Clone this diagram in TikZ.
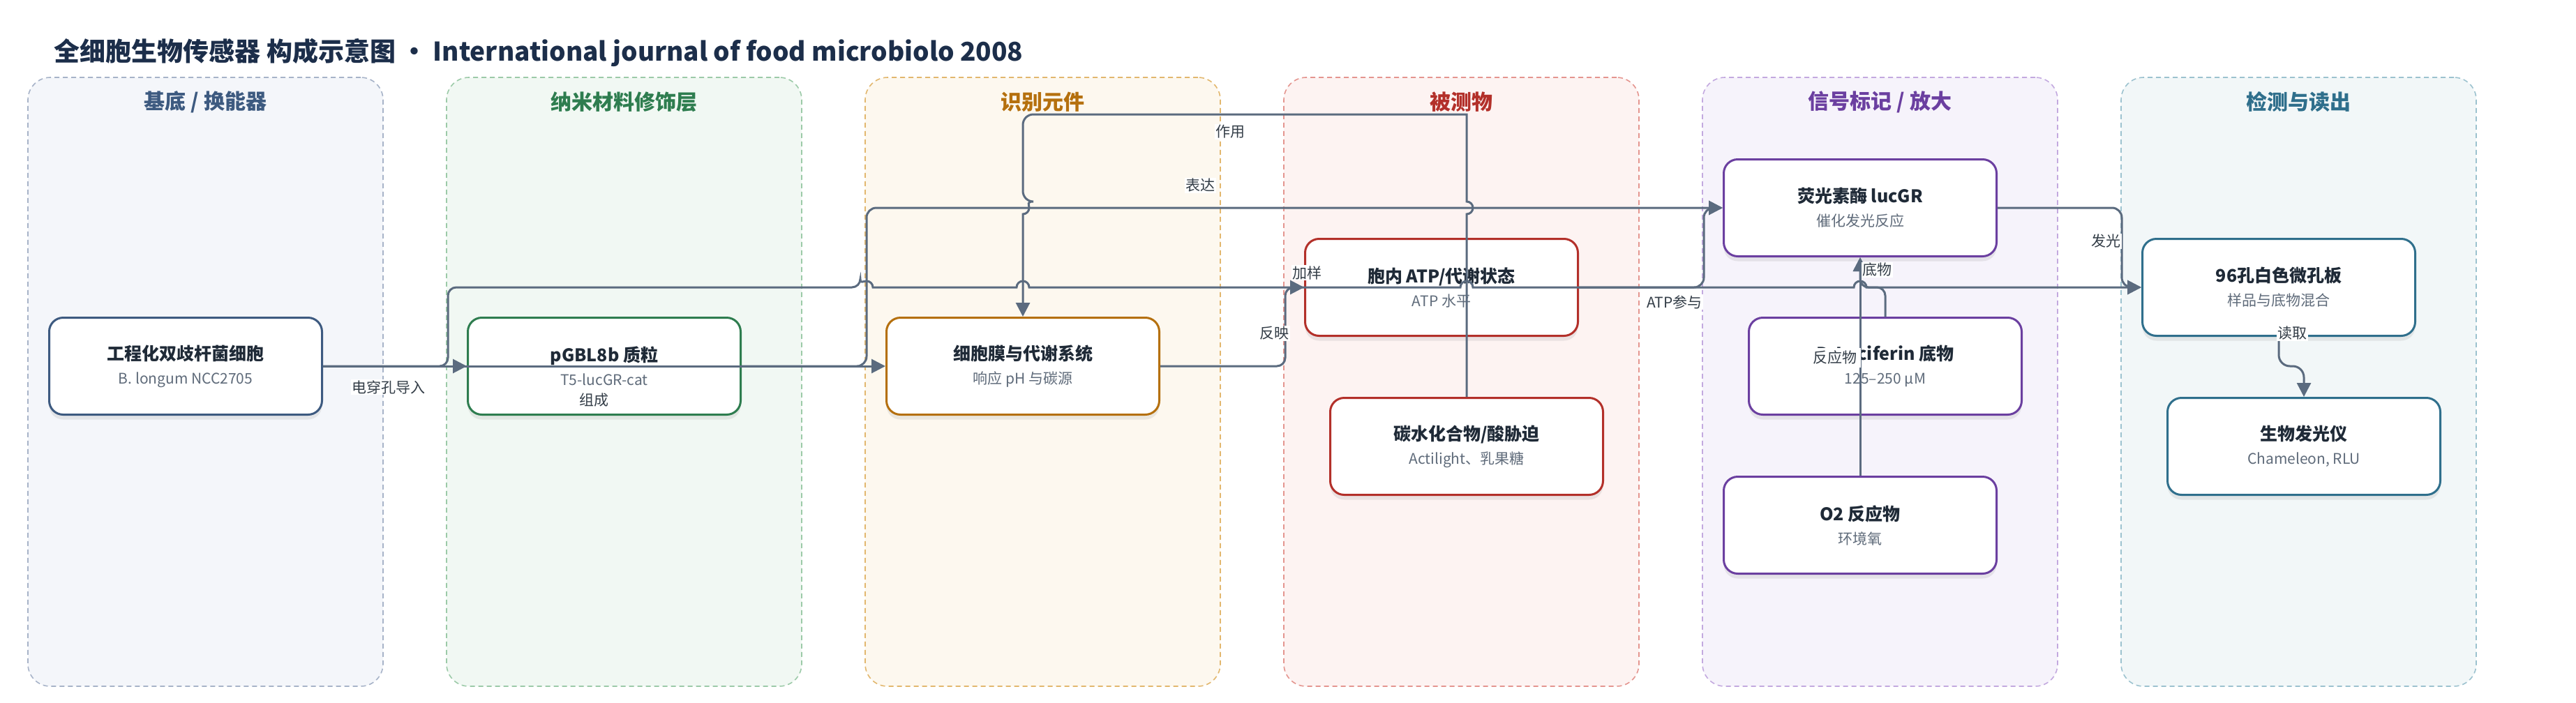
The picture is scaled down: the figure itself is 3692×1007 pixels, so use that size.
\documentclass[tikz,border=0pt]{standalone}
\usepackage{fontspec}
\setmainfont{Noto Sans CJK SC}
\usetikzlibrary{arrows.meta,shadows}
\definecolor{ttlink}{HTML}{1C2E4A}
\definecolor{ink}{HTML}{1F2A37}
\definecolor{subink}{HTML}{5F6B7A}
\definecolor{labink}{HTML}{333D47}
\definecolor{edge}{HTML}{5B6B7F}
\definecolor{cbase}{HTML}{3D5A80}
\definecolor{cnano}{HTML}{2E7D4F}
\definecolor{crec}{HTML}{B5700E}
\definecolor{cana}{HTML}{B3302A}
\definecolor{csig}{HTML}{6B3FA0}
\definecolor{cdet}{HTML}{2F6F8C}
\definecolor{fbase}{HTML}{F4F6FA}
\definecolor{fnano}{HTML}{F1F8F3}
\definecolor{frec}{HTML}{FDF8EF}
\definecolor{fana}{HTML}{FDF3F2}
\definecolor{fsig}{HTML}{F6F3FB}
\definecolor{fdet}{HTML}{F2F7F8}
\definecolor{dbase}{HTML}{A7B3C8}
\definecolor{dnano}{HTML}{9CCAA8}
\definecolor{drec}{HTML}{E2B76E}
\definecolor{dana}{HTML}{E4958F}
\definecolor{dsig}{HTML}{C3A9DF}
\definecolor{ddet}{HTML}{9CC2CF}

\begin{document}
\begin{tikzpicture}[x=1pt,y=-1pt,
  grp/.style={dash pattern=on 7pt off 5pt, line width=1.6pt, rounded corners=32pt, minimum width=509pt, minimum height=873pt, inner sep=0pt},
  grptitle/.style={font=\fontsize{30}{36}\selectfont\bfseries},
  bx/.style={draw, fill=white, line width=3pt, rounded corners=20pt, minimum width=391pt, minimum height=139pt, align=center, inner sep=0pt, text=ink, font=\fontsize{21}{34}\selectfont, drop shadow={opacity=0.15, shadow xshift=0pt, shadow yshift=-7pt}},
  arr/.style={draw=edge, line width=3pt, -{Triangle[length=20pt,width=20pt]}},
  lab/.style={fill=white, inner sep=1.5pt, text=labink, font=\fontsize{21}{24}\selectfont}
]
\useasboundingbox (0,0) rectangle (3692,1007);
\node[anchor=west, font=\fontsize{37}{44}\selectfont\bfseries, text=ttlink] (ttl) at (74,75) {全细胞生物传感器 构成示意图 · International journal of food microbiolo 2008};
\node[grp, draw=dbase, fill=fbase] (grp0) at (294.5,547.5) {};
\node[grp, draw=dnano, fill=fnano] (grp1) at (894.5,547.5) {};
\node[grp, draw=drec, fill=frec] (grp2) at (1494.5,547.5) {};
\node[grp, draw=dana, fill=fana] (grp3) at (2094.5,547.5) {};
\node[grp, draw=dsig, fill=fsig] (grp4) at (2694.5,547.5) {};
\node[grp, draw=ddet, fill=fdet] (grp5) at (3294.5,547.5) {};
\node[grptitle, text=cbase] (gt0) at (294.5,146) {基底 / 换能器};
\node[grptitle, text=cnano] (gt1) at (894.5,146) {纳米材料修饰层};
\node[grptitle, text=crec] (gt2) at (1494.5,146) {识别元件};
\node[grptitle, text=cana] (gt3) at (2094.5,146) {被测物};
\node[grptitle, text=csig] (gt4) at (2694.5,146) {信号标记 / 放大};
\node[grptitle, text=cdet] (gt5) at (3294.5,146) {检测与读出};
\node[bx, draw=cbase] (bx0) at (266,525) {{\fontsize{25}{34}\selectfont\bfseries 工程化双歧杆菌细胞}\\{\color{subink}B. longum NCC2705}};
\node[bx, draw=cnano] (bx1) at (866,525) {{\fontsize{25}{34}\selectfont\bfseries pGBL8b 质粒}\\{\color{subink}T5-lucGR-cat}};
\node[bx, draw=crec] (bx2) at (1466,525) {{\fontsize{25}{34}\selectfont\bfseries 细胞膜与代谢系统}\\{\color{subink}响应 pH 与碳源}};
\node[bx, draw=cana] (bx3) at (2066,412) {{\fontsize{25}{34}\selectfont\bfseries 胞内 ATP/代谢状态}\\{\color{subink}ATP 水平}};
\node[bx, draw=cana] (bx4) at (2102,640) {{\fontsize{25}{34}\selectfont\bfseries 碳水化合物/酸胁迫}\\{\color{subink}Actilight、乳果糖}};
\node[bx, draw=csig] (bx5) at (2666,298) {{\fontsize{25}{34}\selectfont\bfseries 荧光素酶 lucGR}\\{\color{subink}催化发光反应}};
\node[bx, draw=csig] (bx6) at (2702,525) {{\fontsize{25}{34}\selectfont\bfseries D-Luciferin 底物}\\{\color{subink}125–250 μM}};
\node[bx, draw=csig] (bx7) at (2666,753) {{\fontsize{25}{34}\selectfont\bfseries O2 反应物}\\{\color{subink}环境氧}};
\node[bx, draw=cdet] (bx8) at (3266,412) {{\fontsize{25}{34}\selectfont\bfseries 96孔白色微孔板}\\{\color{subink}样品与底物混合}};
\node[bx, draw=cdet] (bx9) at (3302,640) {{\fontsize{25}{34}\selectfont\bfseries 生物发光仪}\\{\color{subink}Chameleon, RLU}};
\draw[arr] (bx0.east) -- (bx1.west);
\draw[arr] (bx0.east) -- (bx2.west);
\draw[arr] (bx0.east) [rounded corners=12pt] -- (642,525) -- (642,412) -- (1233,412) [sharp corners] arc[start angle=180,end angle=0,radius=9pt] -- (1457,412) arc[start angle=180,end angle=0,radius=9pt] -- (2093,412) arc[start angle=180,end angle=0,radius=9pt] -- (2657,412) arc[start angle=180,end angle=0,radius=9pt] -- (bx8.west);
\draw[arr] (bx1.east) [rounded corners=14pt] -- (1242,525) -- (1242,298) -- (bx5.west);
\draw[arr] (bx2.east) [rounded corners=12pt] -- (1842,525) -- (1842,412) -- (bx3.west);
\draw[arr] (bx3.east) [rounded corners=14pt] -- (2442,412) -- (2442,298) -- (bx5.west);
\draw[arr] (bx4.north) -- (2102,307) [sharp corners] arc[start angle=-90,end angle=90,radius=9pt] -- (2102,164) [rounded corners=15pt] -- (1466,164) -- (1466,289) [sharp corners] arc[start angle=90,end angle=-90,radius=9pt] -- (bx2.north);
\draw[arr] (bx6.north) [rounded corners=12pt] -- (2702,412) -- (2666,412) -- (bx5.south);
\draw[arr] (bx7.north) -- (bx5.south);
\draw[arr] (bx5.east) [rounded corners=14pt] -- (3041,298) -- (3041,412) -- (bx8.west);
\draw[arr] (bx8.south) [rounded corners=16pt] -- (3266,525) -- (3302,525) -- (bx9.north);
\node[lab] (lb0) at (557,555) {电穿孔导入};
\node[lab] (lb1) at (851,574) {组成};
\node[lab] (lb2) at (1873,391) {加样};
\node[lab] (lb3) at (1720,266) {表达};
\node[lab] (lb4) at (1826,478) {反映};
\node[lab] (lb5) at (2400,433) {ATP参与};
\node[lab] (lb6) at (1763,189) {作用};
\node[lab] (lb7) at (2690,387) {底物};
\node[lab, inner xsep=5pt, inner ysep=4pt] (lb8) at (2630,513) {反应物};
\node[lab] (lb9) at (3018,346) {发光};
\node[lab] (lb10) at (3285,478) {读取};
\end{tikzpicture}
\end{document}
